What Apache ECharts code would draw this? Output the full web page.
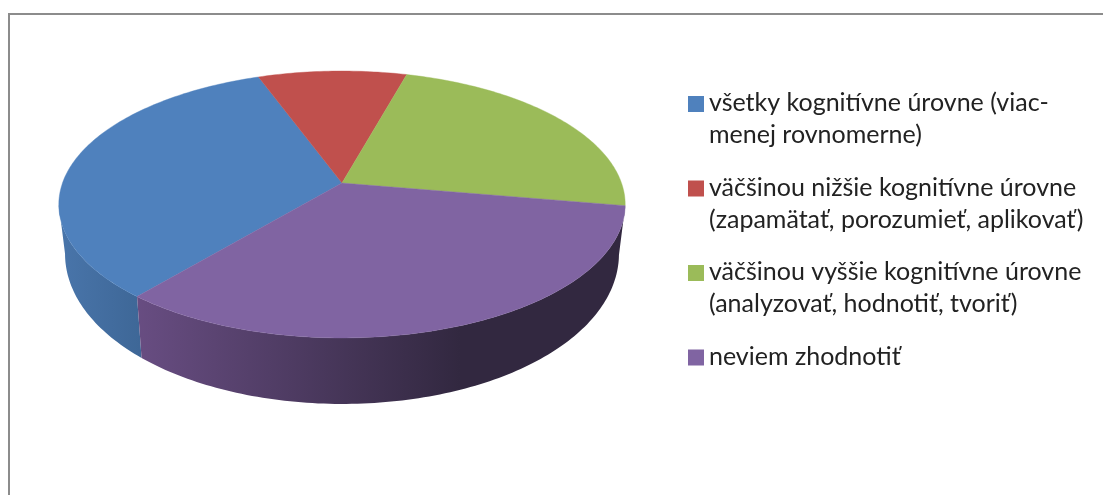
<!DOCTYPE html>
<html><head><meta charset="utf-8">
<style>html,body{margin:0;padding:0;background:#fff}#c{width:1103px;height:495px}</style>
<script src="https://cdn.jsdelivr.net/npm/echarts@6/dist/echarts.min.js"></script>
</head><body><div id="c"></div>
<script>
const categories = [
  'všetky kognitívne úrovne (viac-\nmenej rovnomerne)',
  'väčšinou nižšie kognitívne úrovne\n(zapamätať, porozumieť, aplikovať)',
  'väčšinou vyššie kognitívne úrovne\n(analyzovať, hodnotiť, tvoriť)',
  'neviem zhodnotiť'
];
const shares = [33.3, 9.9, 23.4, 33.4];
const colors = ['#4f81bd', '#c0504d', '#9bbb59', '#8064a2'];
const firstSliceAngle = 220;

// projection of the tilted pie disk
const P = { cx: 342, cy: 183, A: 279.5, B: 130, k: 0.161, d0: 46, d1: 20, shrink: 0.978 };
const total = shares.reduce((a, b) => a + b, 0);
const rad = d => d * Math.PI / 180;
function rimTop(deg) {
  const u = Math.sin(rad(deg)), v = -Math.cos(rad(deg));
  const w = 1 - P.k * v;
  return [P.cx + P.A * u / w, P.cy + P.B * v / w];
}
function rimBottom(deg) {
  const p = rimTop(deg), v = -Math.cos(rad(deg));
  return [P.cx + (p[0] - P.cx) * P.shrink, p[1] + P.d0 + P.d1 * v];
}
function arc(a0, a1, fn) {
  const n = Math.max(2, Math.ceil(Math.abs(a1 - a0)));
  const out = [];
  for (let i = 0; i <= n; i++) out.push(fn(a0 + (a1 - a0) * i / n));
  return out;
}
const visFrom = 99.3, visTo = 260.7;
const wallShades = [
  { x0: 60, x1: 140, from: '#4975aa', to: '#3e6797' },
  null, null,
  { x0: 136, x1: 460, from: '#684d82', to: '#322840' }
];

function sliceRender(idx) {
  return function (params, api) {
    const before = shares.slice(0, idx).reduce((a, b) => a + b, 0);
    let a0 = firstSliceAngle + before / total * 360;
    if (a0 >= 360) a0 -= 360;
    const a1 = a0 + api.value(0) / total * 360;
    const color = api.visual('color');
    const children = [];
    // side wall: only the part of the rim facing the viewer
    const f = Math.max(a0, visFrom), t = Math.min(a1, visTo);
    if (t > f && wallShades[idx]) {
      const s = wallShades[idx];
      const pts = arc(f, t, rimTop).concat(arc(t, f, rimBottom));
      const fill = new echarts.graphic.LinearGradient(s.x0, 0, s.x1, 0,
        [{ offset: 0, color: s.from }, { offset: 1, color: s.to }], true);
      children.push({ type: 'polygon', shape: { points: pts }, style: { fill: fill } });
    }
    const pts = [[P.cx, P.cy]].concat(arc(a0, a1, rimTop));
    children.push({ type: 'polygon', shape: { points: pts }, style: { fill: color, stroke: color, lineWidth: 0.4 } });
    return { type: 'group', children };
  };
}

const chart = echarts.init(document.getElementById('c'), null, { renderer: 'canvas' });
chart.setOption({
  animation: false,
  backgroundColor: '#ffffff',
  graphic: [{
    type: 'rect', silent: true, z: -10,
    shape: { x: 9, y: 14, width: 1200, height: 600 },
    style: { fill: 'none', stroke: '#8c8c8c', lineWidth: 2 }
  }],
  legend: {
    orient: 'vertical', left: 683, top: 82,
    data: categories, selectedMode: false,
    itemWidth: 16, itemHeight: 64, itemGap: 20.5,
    icon: 'path://M0 9H16V25H0Z M0 0H0.01V0.01H0Z M0 64H0.01V64.01H0Z',
    formatter: n => n.indexOf('\n') < 0 ? n + '\n ' : n,
    textStyle: { fontFamily: 'Lato, "Open Sans", sans-serif', fontSize: 25, lineHeight: 32, color: '#222222' }
  },
  series: categories.map((name, i) => ({
    type: 'custom', name, coordinateSystem: 'none',
    itemStyle: { color: colors[i] }, silent: true,
    data: [[shares[i]]], renderItem: sliceRender(i)
  }))
});
</script></body></html>
